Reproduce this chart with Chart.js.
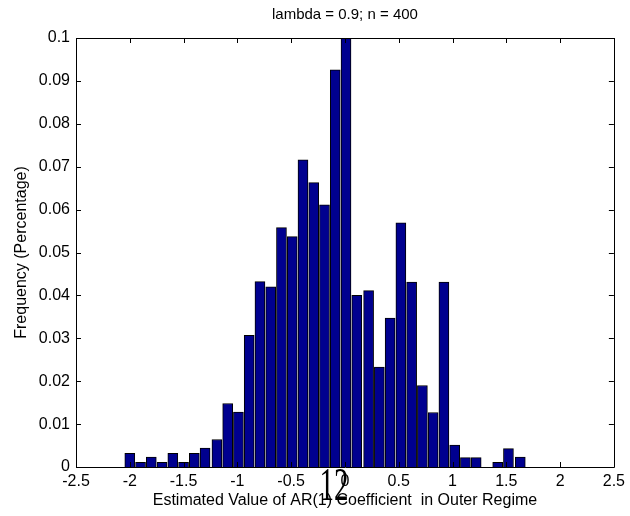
<!DOCTYPE html>
<html>
<head>
<meta charset="utf-8">
<script src="https://cdn.jsdelivr.net/npm/chart.js@4.4.1/dist/chart.umd.min.js"></script>
<style>
  html, body { margin: 0; padding: 0; background: #fff; }
  canvas { display: block; }
</style>
</head>
<body>
<canvas id="myChart" width="630" height="516"></canvas>
<script>
// bin centres of the histogram (AR(1) estimate)
var binCenters = [-2.00, -1.90, -1.80, -1.70, -1.60, -1.50, -1.40, -1.30, -1.19, -1.09,
                  -0.99, -0.89, -0.79, -0.69, -0.59, -0.49, -0.39, -0.29, -0.19, -0.09,
                   0.01,  0.11,  0.22,  0.32,  0.42,  0.52,  0.62,  0.72,  0.82,  0.92,
                   1.02,  1.12,  1.22,  1.32,  1.42,  1.52,  1.63];
// frequency of each bin
var freqs = [0.0032, 0.0011, 0.0023, 0.0011, 0.0032, 0.0011, 0.0032, 0.0044, 0.0064, 0.0148,
             0.0128, 0.0307, 0.0432, 0.0420, 0.0558, 0.0537, 0.0716, 0.0663, 0.0611, 0.0926,
             0.1000, 0.0400, 0.0411, 0.0233, 0.0347, 0.0569, 0.0431, 0.0190, 0.0127, 0.0431,
             0.0051, 0.0022, 0.0022, 0.0000, 0.0011, 0.0043, 0.0023];
var xTicks = [-2.5, -2, -1.5, -1, -0.5, 0, 0.5, 1, 1.5, 2, 2.5];
var yTicks = [0, 0.01, 0.02, 0.03, 0.04, 0.05, 0.06, 0.07, 0.08, 0.09, 0.1];
var titleText = 'lambda = 0.9; n = 400';

var points = binCenters.map(function (x, i) { return { x: x, y: freqs[i] }; });

var FONT = 'Liberation Sans, Arial, sans-serif';
Chart.defaults.font.family = FONT;
Chart.defaults.font.size = 16;
Chart.defaults.color = '#000';

// matlab style box with inward ticks, title over the axes, stray page number
var matlabBox = {
    id: 'matlabBox',
    afterDraw: function (chart) {
        var c = chart.ctx, a = chart.chartArea;
        var xs = chart.scales.x, ys = chart.scales.y;
        var len = 5;
        c.save();
        c.strokeStyle = '#000';
        c.lineWidth = 1;
        c.beginPath();
        c.rect(Math.round(a.left) + 0.5, Math.round(a.top) + 0.5,
               Math.round(a.right - a.left), Math.round(a.bottom - a.top));
        xTicks.forEach(function (v) {
            var px = Math.round(xs.getPixelForValue(v)) + 0.5;
            c.moveTo(px, a.bottom); c.lineTo(px, a.bottom - len);
            c.moveTo(px, a.top); c.lineTo(px, a.top + len);
        });
        yTicks.forEach(function (v) {
            var py = Math.round(ys.getPixelForValue(v)) + 0.5;
            c.moveTo(a.left, py); c.lineTo(a.left + len, py);
            c.moveTo(a.right, py); c.lineTo(a.right - len, py);
        });
        c.stroke();

        c.fillStyle = '#000';
        c.textAlign = 'center';
        c.textBaseline = 'middle';
        c.font = '15px ' + FONT;
        c.fillText(titleText, (a.left + a.right) / 2, 15);

        c.font = '29px "Liberation Serif", "Times New Roman", serif';
        c.textBaseline = 'alphabetic';
        c.translate(334, 500);
        c.scale(1, 1.6);
        c.fillText('12', 0, 0);
        c.restore();
    }
};

var ctx = document.getElementById('myChart');
var myChart = new Chart(ctx, {
    type: 'bar',
    data: {
        datasets: [{
            label: 'freq',
            data: points,
            backgroundColor: '#00008F',
            borderColor: '#000',
            borderWidth: 1,
            barThickness: 10
        }]
    },
    options: {
        responsive: false,
        animation: false,
        maintainAspectRatio: false,
        layout: { padding: { left: 0, right: 15, top: 38, bottom: 0 } },
        plugins: {
            legend: { display: false },
            tooltip: { enabled: false },
            title: { display: false }
        },
        scales: {
            x: {
                type: 'linear',
                min: -2.5,
                max: 2.5,
                offset: false,
                grid: { display: false, drawTicks: false },
                border: { display: false },
                ticks: {
                    stepSize: 0.5, padding: 5, maxRotation: 0, autoSkip: false,
                    callback: function (v) { return String(+v.toFixed(1)); }
                },
                title: {
                    display: true,
                    text: 'Estimated Value of AR(1) Coefficient  in Outer Regime',
                    padding: { top: 0, bottom: 6 }
                },
                afterFit: function (s) { s.height = 49; }
            },
            y: {
                min: 0,
                max: 0.1,
                grid: { display: false, drawTicks: false },
                border: { display: false },
                ticks: {
                    stepSize: 0.01, padding: 6,
                    callback: function (v) { return String(+v.toFixed(2)); }
                },
                title: {
                    display: true,
                    text: 'Frequency (Percentage)',
                    padding: { top: 12, bottom: 0 }
                },
                afterFit: function (s) { s.width = 76; }
            }
        }
    },
    plugins: [matlabBox]
});
</script>
</body>
</html>
